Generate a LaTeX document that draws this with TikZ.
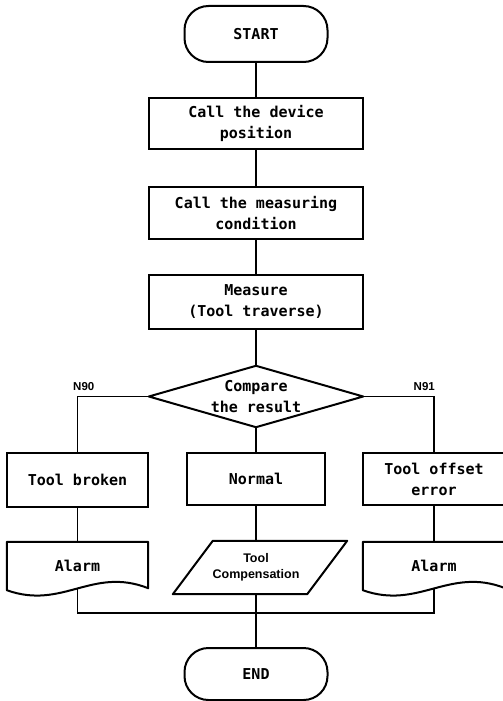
\documentclass[tikz,border=0pt]{standalone}
\usepackage{fontspec}
\newfontfamily\monofnt{DejaVu Sans Mono}
\newfontfamily\arialfnt{Liberation Sans}
\begin{document}
\begin{tikzpicture}[x=1pt,y=-1pt,
  txt/.style={rectangle, inner sep=0pt, align=center, font=\monofnt\bfseries\fontsize{15}{21}\selectfont},
  box/.style={txt, draw, line width=2pt},
  term/.style={box, rounded corners=24pt},
  ghost/.style={txt},
  shapeline/.style={line width=2pt, line join=round},
  conn/.style={line width=1.4pt},
  lbl/.style={font=\arialfnt\bfseries\fontsize{11.5}{12}\selectfont, inner sep=0pt}]
\useasboundingbox (0,0) rectangle (503,701);
\node[term, minimum width=143pt, minimum height=56pt] (start) at (256,34) {START};
\node[box, minimum width=214pt, minimum height=51pt] (b1) at (256,123.5) {Call the device\\position};
\node[box, minimum width=214pt, minimum height=52pt] (b2) at (256,213) {Call the measuring\\condition};
\node[box, minimum width=214pt, minimum height=54pt] (b3) at (256,302) {Measure\\(Tool traverse)};
\node[ghost, minimum width=214pt, minimum height=61pt] (dia) at (256,396.5) {Compare\\the result};
\draw[shapeline] (dia.north) -- (dia.east) -- (dia.south) -- (dia.west) -- cycle;
\node[lbl, anchor=south west] (n90) at (73,391) {N90};
\node[lbl, anchor=south east] (n91) at (435,391) {N91};
\node[box, minimum width=141pt, minimum height=54pt] (tb) at (77.5,480) {Tool broken};
\node[box, minimum width=138pt, minimum height=52pt] (nm) at (256,479) {Normal};
\node[box, minimum width=142pt, minimum height=52pt] (to) at (434,479) {Tool offset\\error};
\node[ghost, minimum width=141pt, minimum height=48pt] (al1) at (77.5,566) {Alarm};
\node[ghost, minimum width=142pt, minimum height=48pt] (al2) at (434,566) {Alarm};
\foreach \n in {al1,al2}{
  \draw[shapeline] (\n.south west) -- (\n.north west) -- (\n.north east) -- ([yshift=2pt]\n.south east)
    .. controls +(-56,-22) and +(56,20) .. (\n.south west) -- cycle;
  \coordinate (\n b) at ([yshift=1.75pt]\n.south);
}
\node[ghost, minimum width=134pt, minimum height=53pt, font=\arialfnt\bfseries\fontsize{12.5}{16}\selectfont] (tc) at (256,567.5) {Tool\\Compensation};
\draw[shapeline] ([xshift=24pt]tc.north west) -- ([xshift=24pt]tc.north east) -- ([xshift=-16pt]tc.south east) -- ([xshift=-16pt]tc.south west) -- cycle;
\node[term, minimum width=143pt, minimum height=52pt] (en) at (256,674) {END};
\coordinate (j) at (256,613);
\draw[conn] (start) -- (b1);
\draw[conn] (b1) -- (b2);
\draw[conn] (b2) -- (b3);
\draw[conn] (b3) -- (dia.north);
\draw[conn] (dia.west) -| (tb.north);
\draw[conn] (dia.east) -| (to.north);
\draw[conn] (dia.south) -- (nm.north);
\draw[conn] (tb) -- (al1);
\draw[conn] (to) -- (al2);
\draw[conn] (nm) -- (tc.north);
\draw[conn] (al1b) |- (j) -| (al2b);
\draw[conn] (tc.south) -- (en);
\end{tikzpicture}
\end{document}
